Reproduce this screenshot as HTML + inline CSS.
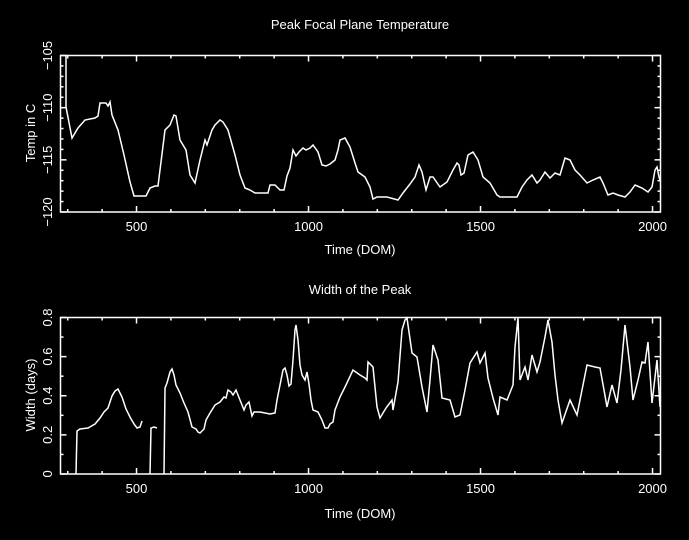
<!DOCTYPE html>
<html><head><meta charset="utf-8"><style>
html,body{margin:0;padding:0;background:#000;}
svg{display:block;}
text{fill:#fff;font-family:"Liberation Sans",sans-serif;font-size:13px;}
</style></head><body>
<svg id="s" width="689" height="540" viewBox="0 0 689 540" xmlns="http://www.w3.org/2000/svg">
<rect width="689" height="540" fill="#000"/>
<g stroke="#fff" stroke-width="1.5" fill="none">
<rect x="60.5" y="55.5" width="600" height="156.5"/>
<rect x="60.5" y="317.5" width="600" height="156.5"/>
<g id="ticks"></g>
<polyline points="66,55 66,107 72,138 78,128 85,120 95,118 98,116 100,103 106,103 108,106 110,102 112,115 118,130 124,155 130,182 134,196 140,196 146,196 150,188 155,186 158,186 165,130 170,125 174,115 176,116 180,140 186,150 190,175 195,183 200,160 205,140 207,145 212,130 215,125 220,120 223,122 228,130 235,155 240,175 245,188 250,190 255,193 262,193 268,193 270,185 275,185 280,190 284,190 287,176 290,168 293,150 296,156 299,152 303,148 306,150 310,148 313,145 318,152 322,165 326,166 330,164 335,160 338,150 340,140 345,138 350,147 355,163 358,172 365,177 370,187 373,199 377,197 387,197 398,200 403,193 410,184 415,177 419,165 422,172 426,190 430,177 433,177 440,187 447,182 453,170 457,163 459,165 461,175 464,173 468,155 473,152 478,160 483,177 490,183 497,195 500,197 517,197 522,187 527,180 532,175 537,183 540,180 545,172 550,178 555,173 560,175 565,158 570,160 575,170 580,175 587,183 593,180 600,177 603,183 608,195 613,193 618,195 625,197 630,192 635,185 642,188 648,192 652,187 655,170 657,167 659,177 660,180"/>
<polyline points="76,474 77,431 80,429 88,428 95,424 100,418 104,412 108,408 112,396 115,391 118,389 122,397 126,409 130,417 134,424 137,428 140,427 142,421"/>
<polyline points="150,474 151,428 154,427 157,428"/>
<polyline points="164,474 165,388 167,383 170,372 172,369 174,375 176,385 180,393 184,403 188,412 192,427 196,429 198,432 200,433 204,429 206,420 210,413 215,405 220,402 224,397 226,398 228,390 231,392 233,395 236,390 240,400 244,410 246,405 249,402 252,416 254,412 260,412 270,414 275,413 277,400 280,385 283,370 285,368 287,375 289,386 291,384 293,360 295,330 296,325 298,340 300,365 302,375 305,380 307,372 309,384 311,400 313,410 318,412 322,420 325,428 328,428 330,424 333,422 335,410 340,397 346,385 353,370 360,375 365,378 367,380 368,362 373,367 377,407 380,418 386,408 392,400 393,410 398,382 402,330 405,320 407,318 412,353 417,357 422,387 427,412 430,380 433,345 438,360 442,398 450,400 455,417 460,415 465,390 470,363 477,352 480,363 485,353 488,378 493,398 498,415 500,397 507,400 513,385 515,347 518,318 520,380 525,367 528,380 532,355 537,372 540,362 545,337 548,320 552,342 555,375 558,400 562,423 570,400 577,415 582,390 587,365 595,367 600,368 604,390 607,407 612,385 617,403 621,370 625,325 630,367 633,400 638,380 642,362 645,363 648,342 652,403 657,360 660,407"/>
</g>
<text x="360" y="29" text-anchor="middle">Peak Focal Plane Temperature</text>
<text x="360" y="254" text-anchor="middle">Time (DOM)</text>
<text x="360" y="294" text-anchor="middle">Width of the Peak</text>
<text x="360" y="518" text-anchor="middle">Time (DOM)</text>
<text transform="translate(35,133) rotate(-90)" text-anchor="middle">Temp in C</text>
<text transform="translate(35,395) rotate(-90)" text-anchor="middle">Width (days)</text>
<g id="labels"></g>
</svg>
<script>
var NS="http://www.w3.org/2000/svg",t=document.getElementById("ticks"),L=document.getElementById("labels");
function ln(x1,y1,x2,y2){var e=document.createElementNS(NS,"line");e.setAttribute("x1",x1);e.setAttribute("y1",y1);e.setAttribute("x2",x2);e.setAttribute("y2",y2);t.appendChild(e);}
function tx(x,y,s,rot){var e=document.createElementNS(NS,"text");e.textContent=s;e.setAttribute("text-anchor","middle");if(rot){e.setAttribute("transform","translate("+x+","+y+") rotate(-90)");}else{e.setAttribute("x",x);e.setAttribute("y",y);}L.appendChild(e);}
function X(d){return 60.5+(d-279)*0.344;}
[[55.5,212],[317.5,474]].forEach(function(b){
 for(var d=300;d<=2000;d+=100){var x=X(d),m=d%500==0?6:3;ln(x,b[1],x,b[1]-m);ln(x,b[0],x,b[0]+m);}
 [500,1000,1500,2000].forEach(function(d){tx(X(d),b[1]+19,""+d);});
});
for(var i=0;i<=15;i++){var y=55.5+i*156.5/15,m=i%5==0?6:3;ln(60.5,y,60.5+m,y);ln(660.5,y,660.5-m,y);}
for(var i=0;i<=8;i++){var y=317.5+i*156.5/8,m=i%2==0?6:3;ln(60.5,y,60.5+m,y);ln(660.5,y,660.5-m,y);}
["-105","-110","-115","-120"].forEach(function(s,i){tx(52,55.5+i*52.17,"\u2212"+s.slice(1),true);});
["0.8","0.6","0.4","0.2","0"].forEach(function(s,i){tx(52,317.5+i*39.1,s,true);});
</script>
</body></html>
